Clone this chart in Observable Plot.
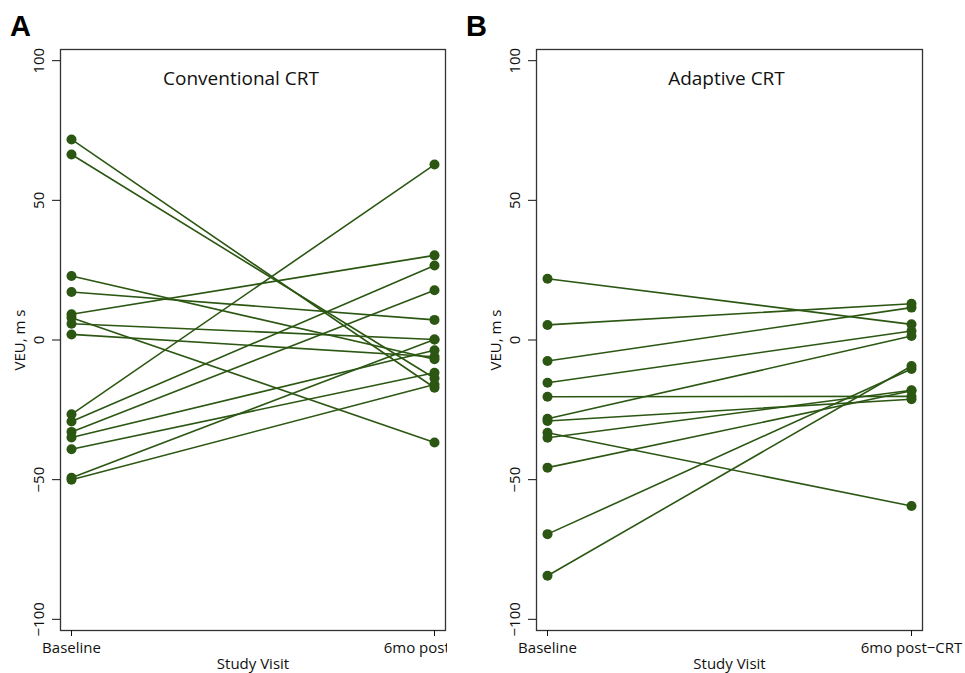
<!DOCTYPE html>
<html><head><meta charset="utf-8">
<script src="https://cdn.jsdelivr.net/npm/d3@7"></script>
<script src="https://cdn.jsdelivr.net/npm/@observablehq/plot@0.6"></script>
<style>
body{margin:0;background:#fff;}
#wrap{position:relative;width:965px;height:673px;overflow:hidden;background:#fff;}
.panel{position:absolute;top:0;overflow:hidden;height:673px;}
.letter{position:absolute;font-family:'Liberation Sans',Arial,sans-serif;font-weight:bold;font-size:29px;line-height:1;color:#000;}
</style></head><body>
<div id="wrap">
<div id="pa" class="panel" style="left:0;width:447px"></div>
<div id="pb" class="panel" style="left:476px;width:489px"></div>
<div class="letter" style="left:10px;top:12px">A</div>
<div class="letter" style="left:466px;top:12px">B</div>
</div>
<script>
const visits = ["Baseline", "6mo post\u2212CRT"];
const yTicks = [-100, -50, 0, 50, 100];
const yLabel = "VEU, m s";
const xLabel = "Study Visit";
const titles = ["Conventional CRT", "Adaptive CRT"];

const conventionalBaseline = [71.8, 66.4, 22.9, 17.2, 9.2, 8.0, 5.8, 2.0, -26.6, -29.2, -32.9, -34.9, -39.1, -49.3, -50.0];
const conventionalSixMonth = [-17.1, -13.7, -6.9, 7.2, 30.3, -36.7, 0.2, -6.0, 62.8, 26.7, 17.8, -3.7, -11.7, 0.2, -15.9];

const adaptiveBaseline = [21.9, 5.4, -7.5, -15.3, -20.3, -28.2, -29.0, -33.2, -35.0, -45.7, -69.5, -84.4];
const adaptiveSixMonth = [5.6, 13.0, 11.6, 3.2, -20.2, 1.4, -21.2, -59.4, -18.0, -18.2, -10.4, -9.3];

const color = "#2b5713";
const fmt = d => d < 0 ? "\u2212" + Math.abs(d) : String(d);

function panel(base, six, title, titleDx, width, marginRight) {
  const data = [];
  base.forEach((v, i) => {
    data.push({id: i, visit: visits[0], v});
    data.push({id: i, visit: visits[1], v: six[i]});
  });
  return Plot.plot({
    width, height: 673,
    marginLeft: 60, marginRight, marginTop: 49, marginBottom: 43,
    style: {fontFamily: "'Open Sans', sans-serif", fontSize: "15px", background: "white", color: "#111", overflow: "hidden"},
    x: {type: "point", domain: visits, padding: 0.029, axis: null},
    y: {domain: [-104, 104], axis: null},
    marks: [
      Plot.frame({stroke: "#333", strokeWidth: 1.3}),
      Plot.axisX({tickSize: 6, tickPadding: 6, label: null, fontSize: 15}),
      Plot.axisY({ticks: yTicks, tickSize: 8, tickFormat: () => "", label: null}),
      Plot.text(yTicks, {y: d => d, frameAnchor: "left", dx: -21, rotate: -90, text: fmt, textAnchor: "middle", lineAnchor: "middle", fontSize: 15}),
      Plot.text([yLabel], {frameAnchor: "left", dx: -40, rotate: -90, text: d => d, textAnchor: "middle", lineAnchor: "middle", fontSize: 15}),
      Plot.text([xLabel], {frameAnchor: "bottom", dy: 28, text: d => d, textAnchor: "middle", lineAnchor: "top", fontSize: 15}),
      Plot.text([title], {frameAnchor: "top", dy: 22, dx: titleDx, text: d => d, textAnchor: "middle", lineAnchor: "top", fontSize: 19}),
      Plot.line(data, {x: "visit", y: "v", z: "id", stroke: color, strokeWidth: 1.6}),
      Plot.dot(data, {x: "visit", y: "v", r: 5, fill: color})
    ]
  });
}

document.getElementById("pa").append(panel(conventionalBaseline, conventionalSixMonth, titles[0], -12, 447, 2));
document.getElementById("pb").append(panel(adaptiveBaseline, adaptiveSixMonth, titles[1], -3, 489, 43));
</script>
</body></html>
